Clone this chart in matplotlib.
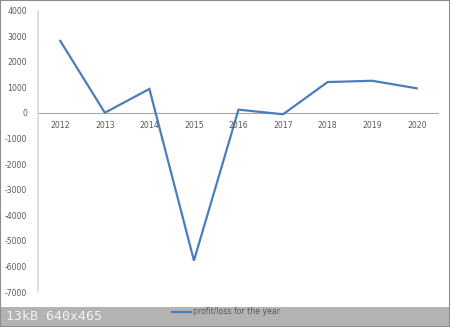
import matplotlib.pyplot as plt
from matplotlib.patches import Rectangle
from matplotlib.lines import Line2D

# data
years = ["2012", "2013", "2014", "2015", "2016", "2017", "2018", "2019", "2020"]
profit = [2820, 10, 940, -5770, 130, -50, 1210, 1260, 965]
series_name = "profit/loss for the year"
yticks = list(range(-7000, 4001, 1000))

W, H = 450, 327
fig = plt.figure(figsize=(W / 100, H / 100), dpi=100)
fig.patch.set_facecolor("white")

# plot area in pixels
left, right, top, bottom = 38, 439, 10.7, 292
ax = fig.add_axes([left / W, (H - bottom) / H, (right - left) / W, (bottom - top) / H])
ax.set_facecolor("none")

x = list(range(len(years)))
ax.plot(x, profit, color="#4a7ebb", lw=1.6, solid_joinstyle="miter")
ax.set_xlim(-0.5, len(years) - 0.5)
ax.set_ylim(-7000, 4000)

for s in ["top", "right", "bottom"]:
    ax.spines[s].set_visible(False)
ax.spines["left"].set_color("#d9d9d9")
ax.spines["left"].set_linewidth(1.2)
ax.axhline(0, color="#a6a6a6", lw=0.8, zorder=0)

ax.set_yticks(yticks)
ax.set_yticklabels([str(v) for v in yticks])
ax.tick_params(axis="y", length=0, pad=8, labelsize=5.6, labelcolor="#595959")
ax.set_xticks([])

# category labels sit just under the zero line
for xi, lab in zip(x, years):
    ax.annotate(lab, (xi, 0), xytext=(0, -9), textcoords="offset points",
                ha="center", va="center", fontsize=5.6, color="#595959")

# legend line and text
fig.add_artist(Line2D([172 / W, 191 / W], [(H - 312) / H] * 2, color="#4a7ebb", lw=1.6, zorder=6))
fig.text(193 / W, (H - 312) / H, series_name, fontsize=5.6, color="#595959",
         va="center", ha="left", zorder=6)

# gray info bar at the bottom
fig.add_artist(Rectangle((0, 0), 1, 20 / H, transform=fig.transFigure,
                         facecolor="#b3b3b3", edgecolor="none", zorder=5))
fig.text(6 / W, (H - 317) / H, "13kB 640x465", family="DejaVu Sans Mono",
         fontsize=9.5, color="#f2f2f2", va="center", ha="left", zorder=6)

# outer frame
fig.add_artist(Rectangle((0, 0), 1, 1, transform=fig.transFigure,
                         facecolor="none", edgecolor="#8c8c8c", lw=1.5, zorder=7))

fig.savefig("out.png", dpi=100)
